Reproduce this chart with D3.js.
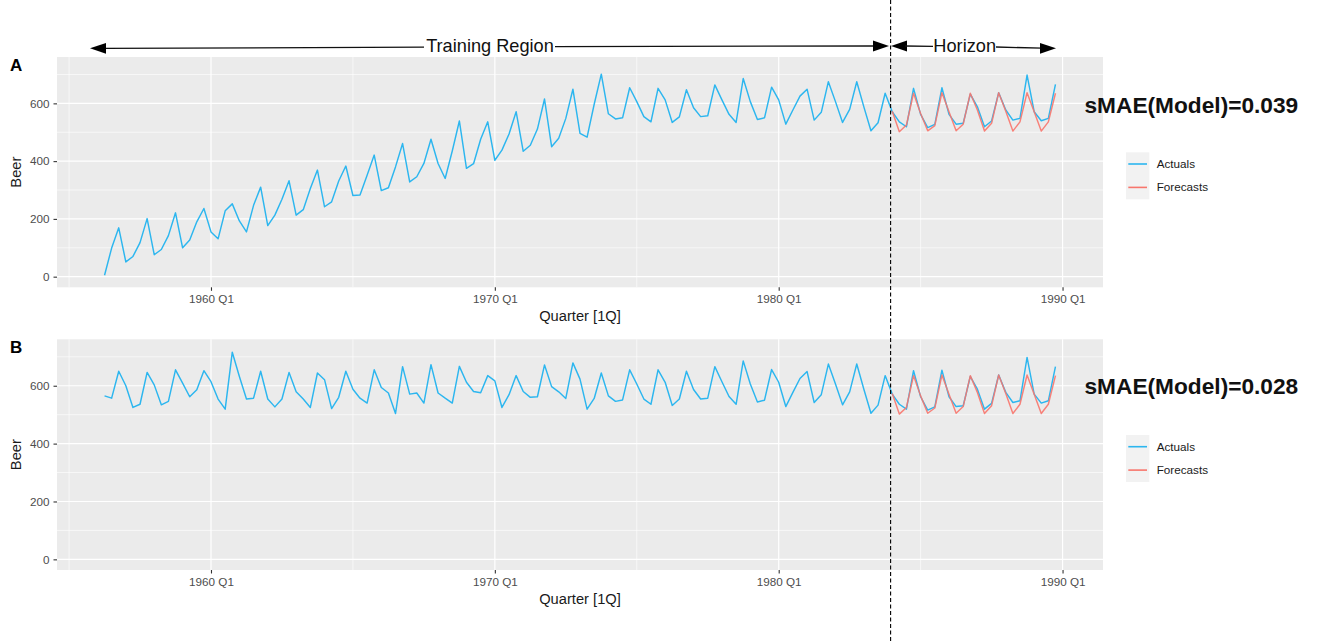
<!DOCTYPE html>
<html><head><meta charset="utf-8">
<script src="https://cdn.jsdelivr.net/npm/d3@7"></script>
<style>
body{margin:0;background:#fff}
svg{display:block}
text{font-family:"Liberation Sans",Arial,Helvetica,sans-serif}
</style>
</head><body>
<svg id="chart" width="1317" height="642"></svg>
<script>
// ---------------- DATA ----------------
const startYear = 1956, startQuarter = 2;      // first observation: 1956 Q2
const trainA = [5,99,169,51,70,118,201,76,94,142,
  221,100,127,190,236,155,131,228,252,193,
  155,247,310,177,213,268,332,213,232,305,
  369,242,259,331,383,281,283,351,421,298,
  308,380,461,328,346,392,476,392,340,435,
  539,375,391,476,536,403,438,494,571,434,
  455,511,615,450,479,548,649,496,483,597,
  701,564,546,550,654,606,554,536,652,612,
  534,553,647,585,554,557,664,612,562,534,
  686,606,544,550,656,612,528,577,625,649,
  542,569,675,606,534,579,675,588,505,533,635];
const trainB = [565,557,650,600,525,536,646,603,534,546,
  655,609,562,586,652,614,554,519,716,632,
  554,557,650,554,527,554,646,579,554,525,
  644,621,521,560,650,588,557,540,655,594,
  575,504,666,571,575,540,673,575,557,540,
  667,612,580,576,635,617,525,569,635,580,
  560,562,672,597,579,556,679,623,519,556,
  644,565,546,551,655,606,554,536,655,612,
  532,554,650,587,554,557,666,614,563,536,
  686,606,544,550,656,612,528,577,625,649,
  542,569,675,606,534,579,675,588,505,533,635];
// horizon 1984 Q1 .. 1989 Q4
const horizonActual = [571,536,519,652,562,516,527,654,562,528,531,632,
  588,519,539,637,577,542,548,698,571,540,548,666];
const forecastVals = [573,502,525,635,565,505,523,637,571,505,528,635,
  577,504,531,637,573,504,536,637,571,504,536,635];
const panelLabels = ["A","B"];
const smaeLabels = ["sMAE(Model)=0.039","sMAE(Model)=0.028"];
const seriesNames = ["Actuals","Forecasts"];
const yTicks = [0,200,400,600], yMinor = [100,300,500,700];
const xTicks = [1960,1970,1980,1990], xMinor = [1955,1965,1975,1985];
const yLimits = [-36.8, 760.5];

// ---------------- DRAW ----------------
const svg = d3.select("#chart");
const BLUE = "#2cb6ef", RED = "#f8766d";
const tOf = k => startYear + (startQuarter-1)/4 + k/4;

const panels = [
  {train: trainA, top: 57, bottom: 287.3, labelY: 71, smaeY: 112.5, legTop: 152.3},
  {train: trainB, top: 339.3, bottom: 570, labelY: 353, smaeY: 393.5, legTop: 435}
];
const left = 57, right = 1103;

panels.forEach((p, i) => {
  const actual = p.train.concat(horizonActual).map((v,k)=>({t:tOf(k), v}));
  const nTrain = p.train.length;
  const fc = forecastVals.map((v,j)=>({t:tOf(nTrain+j), v}));
  const ext = d3.extent(actual, d=>d.t);
  const pad = (ext[1]-ext[0])*0.05;
  const x = d3.scaleLinear().domain([ext[0]-pad, ext[1]+pad]).range([left, right]);
  const y = d3.scaleLinear().domain(yLimits).range([p.bottom, p.top]);
  const g = svg.append("g");

  g.append("rect").attr("x", left).attr("y", p.top).attr("width", right-left)
    .attr("height", p.bottom-p.top).attr("fill", "#ebebeb");
  // grid
  yMinor.forEach(v => g.append("line").attr("x1",left).attr("x2",right)
    .attr("y1",y(v)).attr("y2",y(v)).attr("stroke","#fff").attr("stroke-width",0.6));
  xMinor.forEach(v => g.append("line").attr("y1",p.top).attr("y2",p.bottom)
    .attr("x1",x(v)).attr("x2",x(v)).attr("stroke","#fff").attr("stroke-width",0.6));
  yTicks.forEach(v => g.append("line").attr("x1",left).attr("x2",right)
    .attr("y1",y(v)).attr("y2",y(v)).attr("stroke","#fff").attr("stroke-width",1.2));
  xTicks.forEach(v => g.append("line").attr("y1",p.top).attr("y2",p.bottom)
    .attr("x1",x(v)).attr("x2",x(v)).attr("stroke","#fff").attr("stroke-width",1.2));

  // axes
  const ax = g.append("g").attr("transform",`translate(0,${p.bottom})`)
    .call(d3.axisBottom(x).tickValues(xTicks).tickFormat(d=>d+" Q1").tickSize(3.5).tickPadding(4));
  const ay = g.append("g").attr("transform",`translate(${left},0)`)
    .call(d3.axisLeft(y).tickValues(yTicks).tickSize(3.5).tickPadding(4));
  [ax, ay].forEach(a => {
    a.select(".domain").remove();
    a.selectAll(".tick line").attr("stroke","#333").attr("stroke-width",1.1);
    a.selectAll(".tick text").attr("fill","#4d4d4d").style("font-size","11.7px")
      .style("font-family",'"Liberation Sans",Arial,sans-serif');
  });

  // lines
  const line = d3.line().x(d=>x(d.t)).y(d=>y(d.v));
  g.append("path").datum(actual).attr("d", line).attr("fill","none")
    .attr("stroke", BLUE).attr("stroke-width",1.45).attr("stroke-linejoin","round");
  g.append("path").datum(fc).attr("d", line).attr("fill","none")
    .attr("stroke", RED).attr("stroke-width",1.45).attr("stroke-opacity",0.9).attr("stroke-linejoin","round");

  // titles
  g.append("text").attr("x", (left+right)/2).attr("y", p.bottom+34)
    .attr("text-anchor","middle").style("font-size","14.7px").attr("fill","#1a1a1a").text("Quarter [1Q]");
  g.append("text").attr("transform",`translate(21,${(p.top+p.bottom)/2}) rotate(-90)`)
    .attr("text-anchor","middle").style("font-size","14.7px").attr("fill","#1a1a1a").text("Beer");
  g.append("text").attr("x",10).attr("y",p.labelY).style("font-size","17px")
    .style("font-weight","bold").text(panelLabels[i]);
  g.append("text").attr("x",1084.5).attr("y",p.smaeY).style("font-size","22.7px")
    .style("font-weight","bold").attr("fill","#111").text(smaeLabels[i]);

  // legend
  const lg = g.append("g").attr("transform",`translate(1126,${p.legTop})`);
  lg.append("rect").attr("width",23.3).attr("height",47).attr("fill","#f2f2f2");
  [BLUE, RED].forEach((c, j) => {
    lg.append("line").attr("x1",2.3).attr("x2",21).attr("y1",11.7+j*23.4).attr("y2",11.7+j*23.4)
      .attr("stroke",c).attr("stroke-width",1.6);
    lg.append("text").attr("x",30.7).attr("y",11.7+j*23.4).attr("dy","0.35em")
      .style("font-size","11.7px").attr("fill","#1a1a1a").text(seriesNames[j]);
  });
});

// ---------------- ANNOTATIONS ----------------
function arrowHead(tipX, tipY, dir){ // dir = -1 left, 1 right
  const L = 16, h = 5.4;
  svg.append("polygon").attr("points",
    `${tipX},${tipY} ${tipX-dir*L},${tipY-h} ${tipX-dir*L},${tipY+h}`).attr("fill","#000");
}
function seg(x1,y1,x2,y2){
  svg.append("line").attr("x1",x1).attr("y1",y1).attr("x2",x2).attr("y2",y2)
    .attr("stroke","#111").attr("stroke-width",1.3);
}
seg(104,48.3,424,47.2); arrowHead(90,48.3,-1);
seg(555,46.6,875,46); arrowHead(889,46,1);
svg.append("text").attr("x",490).attr("y",51.5).attr("text-anchor","middle")
  .style("font-size","18.2px").attr("fill","#111").text("Training Region");
arrowHead(891,46,-1); seg(905,46,933,46.3);
svg.append("text").attr("x",964.7).attr("y",51.5).attr("text-anchor","middle")
  .style("font-size","18.2px").attr("fill","#111").text("Horizon");
seg(996,47,1042,48.2); arrowHead(1056,48.3,1);

svg.append("line").attr("x1",890.6).attr("x2",890.6).attr("y1",0).attr("y2",642)
  .attr("stroke","#000").attr("stroke-width",1.1).attr("stroke-dasharray","4,2.5");
</script>
</body></html>
